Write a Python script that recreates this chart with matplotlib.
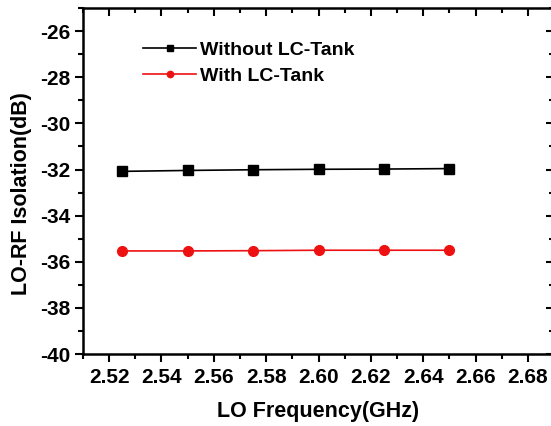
import numpy as np
import matplotlib.pyplot as plt
from matplotlib.ticker import MultipleLocator

plt.rcParams['font.family'] = ['Liberation Sans', 'DejaVu Sans']
plt.rcParams['font.weight'] = 'bold'
plt.rcParams['axes.unicode_minus'] = False

# data
freq = [2.525, 2.55, 2.575, 2.60, 2.625, 2.65]
without_tank = [-32.08, -32.04, -32.01, -31.99, -31.98, -31.96]
with_tank = [-35.53, -35.53, -35.52, -35.50, -35.50, -35.50]
labels = ['Without LC-Tank', 'With LC-Tank']
xticks = [2.52, 2.54, 2.56, 2.58, 2.60, 2.62, 2.64, 2.66, 2.68]

fig = plt.figure(figsize=(5.51, 4.26), dpi=100)
ax = fig.add_axes([0.1506, 0.169, 0.855, 0.812])

ax.plot(freq, without_tank, '-s', color='black', lw=1.2, ms=6.5, label=labels[0])
ax.plot(freq, with_tank, '-o', color='#ee1111', lw=1.2, ms=7, label=labels[1])

ax.set_xlim(2.51, 2.69)
ax.set_ylim(-40, -25)
ax.set_xticks(xticks)
ax.set_xticklabels(['%.2f' % v for v in xticks])
ax.xaxis.set_minor_locator(MultipleLocator(0.01))
ax.yaxis.set_major_locator(MultipleLocator(2))
ax.yaxis.set_minor_locator(MultipleLocator(1))

for s in ax.spines.values():
    s.set_linewidth(1.8)

ax.tick_params(which='both', direction='out', labelsize=15, width=1.5)
ax.tick_params(which='major', length=6)
ax.tick_params(which='minor', length=3.5)
ax.tick_params(axis='x', pad=4)
ax.tick_params(axis='y', pad=3)
# top and right ticks point inward
ax.tick_params(which='both', top=True, right=True)
for t in ax.xaxis.get_major_ticks() + ax.xaxis.get_minor_ticks():
    t.tick2line.set_marker(3)
for t in ax.yaxis.get_major_ticks() + ax.yaxis.get_minor_ticks():
    t.tick2line.set_marker(0)
for lab in ax.get_xticklabels() + ax.get_yticklabels():
    lab.set_fontweight('bold')

ax.set_xlabel('LO Frequency(GHz)', fontsize=15.5, fontweight='bold', labelpad=10)
ax.set_ylabel('LO-RF Isolation(dB)', fontsize=15.5, fontweight='bold')
ax.yaxis.set_label_coords(-0.108, 0.463)

ax.legend(loc='upper left', bbox_to_anchor=(0.09, 0.955), frameon=False,
          fontsize=14, handlelength=2.75, labelspacing=0.42, handletextpad=0.2,
          markerscale=0.65)

fig.savefig('out.png', dpi=100)
